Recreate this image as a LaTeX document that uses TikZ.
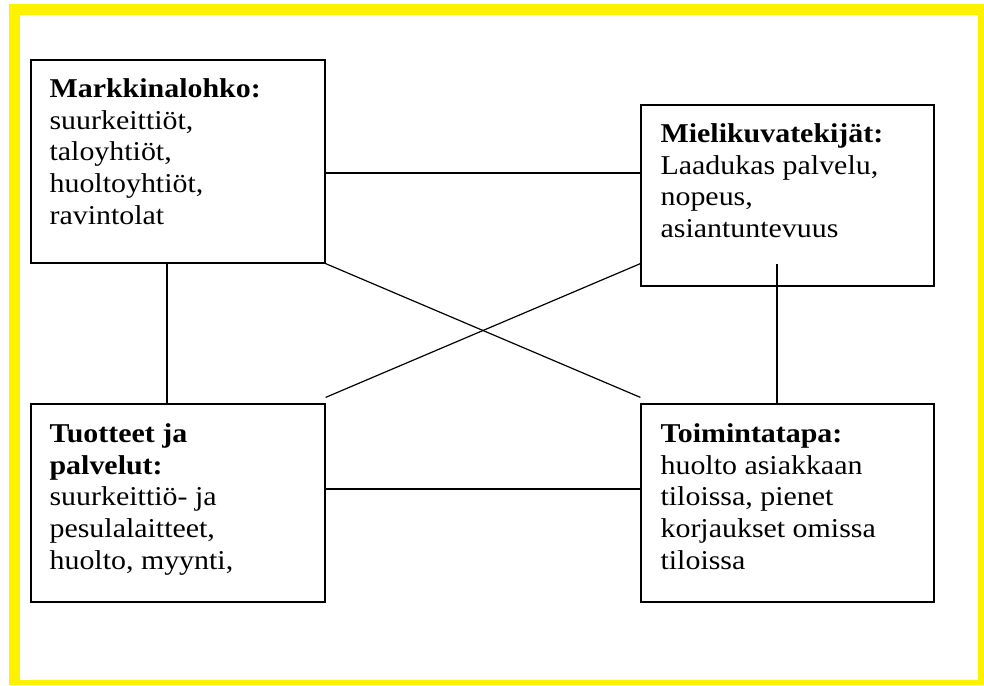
\documentclass[tikz,border=0pt]{standalone}
\usepackage{fontspec}
\setmainfont{Liberation Serif}[FakeStretch=1.1]

\begin{document}
\begin{tikzpicture}[x=1pt,y=-1pt,
    box/.style={draw,rectangle,line width=1.2pt,inner sep=0pt},
    boxtext/.style={anchor=north west,align=left,inner sep=0pt,
      font=\fontsize{27.2}{31.7}\selectfont},
    link/.style={line width=1.2pt}]
  \useasboundingbox (0,0) rectangle (984,685);
  % yellow frame
  \fill[yellow] (9,4) rectangle (984,685);
  \fill[white] (20,15) rectangle (978,680);

  \node[box,minimum width=294pt,minimum height=203pt] (mark) at (178,161.5) {};
  \node[box,minimum width=293pt,minimum height=181pt] (miel) at (787.5,195.5) {};
  \node[box,minimum width=294pt,minimum height=198pt] (tuot) at (178,503) {};
  \node[box,minimum width=293pt,minimum height=198pt] (toim) at (787.5,503) {};

  % first baseline sits 38pt below the box top (strut is 0.7 of 31.7pt)
  \node[boxtext] (markt) at ([shift={(19pt,-15.8pt)}]mark.north west)
    {\strut\textbf{Markkinalohko:}\\ suurkeittiöt,\\ taloyhtiöt,\\ huoltoyhtiöt,\\ ravintolat};
  \node[boxtext] (mielt) at ([shift={(20pt,-15.8pt)}]miel.north west)
    {\strut\textbf{Mielikuvatekijät:}\\ Laadukas palvelu,\\ nopeus,\\ asiantuntevuus};
  \node[boxtext] (tuott) at ([shift={(19pt,-16.8pt)}]tuot.north west)
    {\strut\textbf{Tuotteet ja}\\ \textbf{palvelut:}\\ suurkeittiö- ja\\ pesulalaitteet,\\ huolto, myynti,};
  \node[boxtext] (toimt) at ([shift={(20pt,-16.8pt)}]toim.north west)
    {\strut\textbf{Toimintatapa:}\\ huolto asiakkaan\\ tiloissa, pienet\\ korjaukset omissa\\ tiloissa};

  % connectors
  \draw[link] ([yshift=-11.5pt]mark.east) -- ([yshift=-11.5pt]mark.east -| miel.west);
  \draw[link] ([xshift=-11pt]mark.south) -- ([xshift=-11pt]tuot.north);
  \draw[link] ([yshift=14pt]tuot.east) -- ([yshift=14pt]toim.west);
  \draw[link] ([xshift=-10.5pt,yshift=23pt]miel.south) -- ([xshift=-10.5pt]toim.north);
  \draw[link] (mark.south east) -- ([yshift=6pt]toim.north west);
  \draw[link] ([yshift=6pt]tuot.north east) -- ([yshift=23pt]miel.south west);
\end{tikzpicture}
\end{document}
